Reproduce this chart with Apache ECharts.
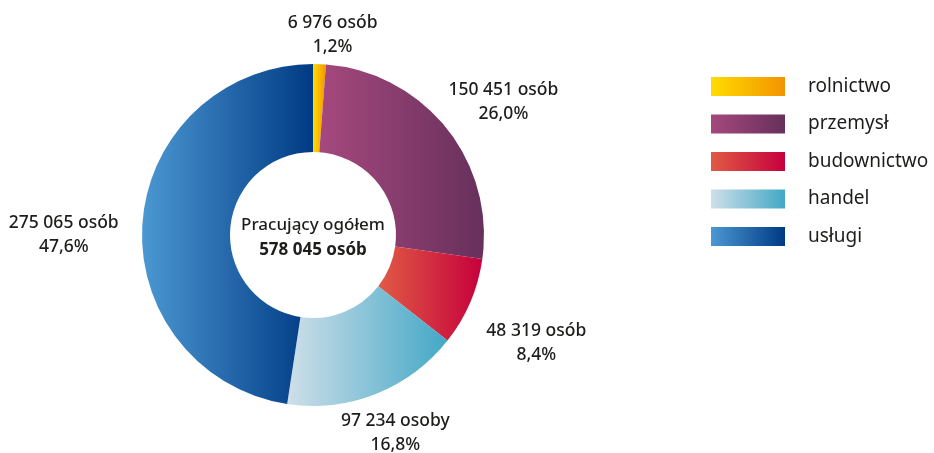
<!DOCTYPE html>
<html>
<head>
<meta charset="utf-8">
<title>Pracujący</title>
<script src="https://cdn.jsdelivr.net/npm/echarts@6/dist/echarts.min.js"></script>
<style>
  html, body { margin: 0; padding: 0; background: #fff; }
  #main { width: 934px; height: 453px; }
</style>
</head>
<body>
<div id="main"></div>
<script type="text/javascript">
    // dane
    var sectors = ['rolnictwo', 'przemysł', 'budownictwo', 'handel', 'usługi'];
    var workers = [6976, 150451, 48319, 97234, 275065];
    var colorsFrom = ['#ffdc00', '#a5487e', '#e05b45', '#cfdfe9', '#4b98d2'];
    var colorsTo = ['#f39300', '#67305c', '#c6003c', '#42a8c6', '#003a84'];
    var totalLabel = 'Pracujący ogółem';

    var CX = 313, CY = 235, R_IN = 83, R_OUT = 171;
    var FONT = '"Noto Sans", "Open Sans", sans-serif';

    var total = 0;
    for (var i = 0; i < workers.length; i++) total += workers[i];

    // 6 976 -> "6 976"
    function fmt(n) {
        return String(n).replace(/\B(?=(\d{3})+(?!\d))/g, ' ');
    }
    // osób / osoby
    function unit(n) {
        var d = n % 10, dd = n % 100;
        if (d >= 2 && d <= 4 && (dd < 12 || dd > 14)) return 'osoby';
        return 'osób';
    }

    // kąty środków wycinków (startAngle 90, zgodnie z zegarem)
    var midAngles = [];
    var cum = 0;
    for (var i = 0; i < workers.length; i++) {
        var f = (cum + workers[i] / 2) / total;
        midAngles.push((90 - f * 360) * Math.PI / 180);
        cum += workers[i];
    }

    // drobne przesunięcia etykiet
    var nudge = [[11, 7], [5, -3], [9, 27], [-5, 6], [-12, 16]];

    var data = [];
    for (var i = 0; i < sectors.length; i++) {
        data.push({
            name: sectors[i],
            value: workers[i],
            itemStyle: {
                color: {
                    type: 'linear', x: 0, y: 0, x2: 1, y2: 0,
                    colorStops: [
                        { offset: 0, color: colorsFrom[i] },
                        { offset: 1, color: colorsTo[i] }
                    ]
                }
            }
        });
    }

    var myChart = echarts.init(document.getElementById('main'));

    var option = {
        animation: false,
        textStyle: { fontFamily: FONT },
        legend: {
            orient: 'vertical',
            left: 711,
            top: 77,
            padding: 0,
            itemWidth: 74,
            itemHeight: 19,
            itemGap: 18.5,
            icon: 'rect',
            selectedMode: false,
            data: sectors,
            textStyle: {
                fontFamily: FONT,
                fontSize: 19,
                color: '#1d1d1b',
                padding: [0, 0, 0, 18]
            }
        },
        graphic: [
            {
                type: 'text',
                x: CX, y: CY - 10,
                style: {
                    text: totalLabel,
                    align: 'center', verticalAlign: 'middle',
                    font: '500 17px ' + FONT,
                    fill: '#1d1d1b'
                }
            },
            {
                type: 'text',
                x: CX, y: CY + 15,
                style: {
                    text: fmt(total) + ' ' + unit(total),
                    align: 'center', verticalAlign: 'middle',
                    font: 'bold 17px ' + FONT,
                    fill: '#1d1d1b'
                }
            }
        ],
        series: [{
            type: 'pie',
            center: [CX, CY],
            radius: [R_IN, R_OUT],
            startAngle: 90,
            clockwise: true,
            avoidLabelOverlap: false,
            silent: true,
            emphasis: { disabled: true },
            label: {
                show: true,
                position: 'outside',
                fontFamily: FONT,
                fontSize: 17.5,
                fontWeight: 500,
                lineHeight: 24,
                color: '#1d1d1b',
                formatter: function (p) {
                    return fmt(p.value) + ' ' + unit(p.value) + '\n' +
                        p.percent.toFixed(1).replace('.', ',') + '%';
                }
            },
            percentPrecision: 1,
            labelLine: { show: false },
            labelLayout: function (p) {
                var a = midAngles[p.dataIndex];
                var ux = Math.cos(a), uy = -Math.sin(a);
                var w = p.labelRect.width, h = p.labelRect.height;
                var g = 12;
                var n = nudge[p.dataIndex];
                return {
                    x: CX + (R_OUT + g) * ux + w / 2 * ux + n[0],
                    y: CY + (R_OUT + g) * uy + h / 2 * uy + n[1],
                    align: 'center',
                    verticalAlign: 'middle'
                };
            },
            data: data
        }]
    };

    myChart.setOption(option);
</script>
</body>
</html>
